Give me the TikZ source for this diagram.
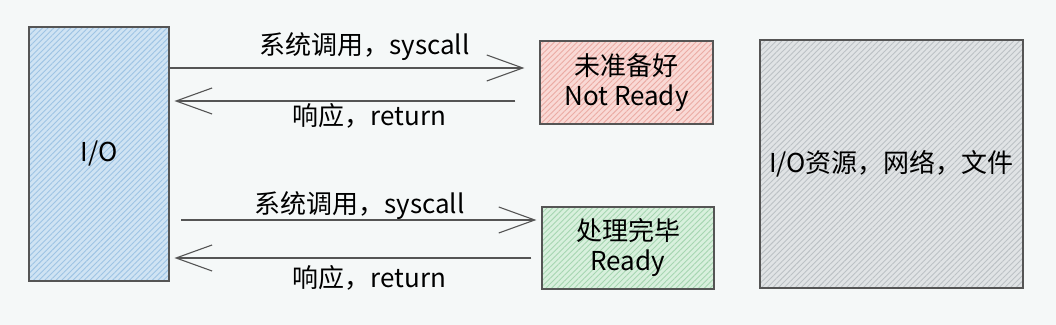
\documentclass[tikz,border=0pt]{standalone}
\usepackage{fontspec}
\setmainfont{Noto Sans CJK SC}
\usetikzlibrary{arrows.meta,patterns.meta}
\definecolor{bgcol}{HTML}{F5F8F8}
\definecolor{linecol}{HTML}{555555}
\definecolor{bluefill}{HTML}{CFE3F3}
\definecolor{bluehatch}{HTML}{9EC4E4}
\definecolor{redfill}{HTML}{F9D9D5}
\definecolor{redhatch}{HTML}{EBABA4}
\definecolor{greenfill}{HTML}{D8F0DD}
\definecolor{greenhatch}{HTML}{A6D6B1}
\definecolor{grayfill}{HTML}{E0E3E5}
\definecolor{grayhatch}{HTML}{BCC1C5}
\begin{document}
\begin{tikzpicture}[x=0.5pt,y=-0.5pt,
  font=\fontsize{13}{15}\selectfont,
  box/.style={draw=linecol,line width=0.6pt,align=center,inner sep=0pt},
  hatch/.style 2 args={preaction={fill=#1},pattern={Lines[angle=45,distance=2pt,line width=0.45pt]},pattern color=#2},
  call/.style={draw=linecol,line width=0.55pt,-{Straight Barb[length=18pt,width=13pt,line width=0.55pt]}}]
% 背景
\fill[bgcol] (0,0) rectangle (1056,325);
\useasboundingbox (0,0) rectangle (1056,325);
% 方框
\node[box,hatch={bluefill}{bluehatch},minimum width=70pt,minimum height=127pt] (io) at (99,154) {I/O};
\node[box,hatch={redfill}{redhatch},minimum width=86.5pt,minimum height=41.5pt] (notready) at (626.5,82.5) {未准备好\\Not Ready};
\node[box,hatch={greenfill}{greenhatch},minimum width=86pt,minimum height=41pt] (ready) at (628,248) {处理完毕\\Ready};
\node[box,hatch={grayfill}{grayhatch},minimum width=131.5pt,minimum height=124pt] (res) at (891.5,164) {I/O资源，网络，文件};
% 上面：未准备好
\draw[call,shorten >=7.5pt] ([yshift=7.25pt]io.east |- notready.west) -- ([yshift=7.25pt]notready.west)
  node[midway,yshift=10.5pt,xshift=5pt] (sys1) {系统调用，syscall};
\draw[call,shorten <=12pt,shorten >=2.5pt] ([yshift=-9.25pt]notready.west) -- ([yshift=-9.25pt]io.east |- notready.west)
  node[midway,yshift=-7.5pt,xshift=7.5pt] (ret1) {响应，return};
% 下面：处理完毕
\draw[call,shorten <=6pt,shorten >=2.5pt] ([yshift=14pt]io.east |- ready.west) -- ([yshift=14pt]ready.west)
  node[midway,yshift=7pt,xshift=2pt] (sys2) {系统调用，syscall};
\draw[call,shorten <=5pt,shorten >=2.5pt] ([yshift=-5pt]ready.west) -- ([yshift=-5pt]io.east |- ready.west)
  node[midway,yshift=-10pt,xshift=7pt] (ret2) {响应，return};
\end{tikzpicture}
\end{document}
